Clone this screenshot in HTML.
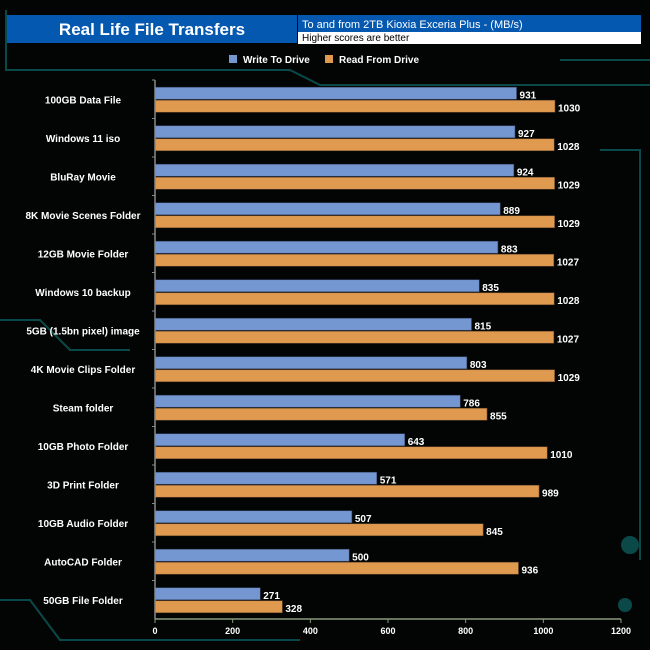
<!DOCTYPE html>
<html><head><meta charset="utf-8"><style>
body{margin:0;background:#000;}
#c{position:relative;width:650px;height:650px;overflow:hidden;background:#030505;font-family:"Liberation Sans",Arial,sans-serif;}
</style></head><body>
<div id="c">
<svg width="650" height="650" id="s" style="position:absolute;left:0;top:0">
<g stroke="#0d5a5a" stroke-width="2" fill="none" opacity="0.8">
<path d="M0 320 L40 320 L70 350 L130 350"/><path d="M600 150 L640 150 L640 560"/><path d="M0 600 L30 600 L60 640 L300 640"/>
<path d="M560 60 L650 60"/><path d="M6 10 L6 70 L290 70 L320 85 L650 85"/>
<circle cx="630" cy="545" r="8" fill="#0d5a5a"/><circle cx="625" cy="605" r="6" fill="#0d5a5a"/>
</g>
<rect x="7" y="15" width="290" height="28" fill="#0558b0"/>
<text x="152" y="35" text-anchor="middle" fill="#fff" font-size="17" font-weight="bold">Real Life File Transfers</text>
<rect x="298" y="15" width="343" height="17" fill="#0558b0"/>
<rect x="298" y="32" width="343" height="12" fill="#fff"/>
<text x="302" y="28" fill="#fff" font-size="11">To and from 2TB Kioxia Exceria Plus - (MB/s)</text>
<text x="302" y="41" fill="#000" font-size="10">Higher scores are better</text>
<rect x="229" y="55" width="8" height="8" fill="#7597d1"/>
<text x="243" y="63" fill="#fff" font-size="10" font-weight="bold">Write To  Drive</text>
<rect x="325" y="55" width="8" height="8" fill="#e09a50"/>
<text x="339" y="63" fill="#fff" font-size="10" font-weight="bold">Read From  Drive</text>
<g id="plot"></g>
</svg>
</div>
<script>
const categories=["100GB Data File","Windows 11 iso","BluRay Movie","8K Movie Scenes Folder","12GB Movie Folder","Windows 10 backup","5GB (1.5bn pixel) image","4K Movie Clips Folder","Steam folder","10GB Photo Folder","3D Print Folder","10GB Audio Folder","AutoCAD Folder","50GB File Folder"];
const writeVals=[931,927,924,889,883,835,815,803,786,643,571,507,500,271];
const readVals=[1030,1028,1029,1029,1027,1028,1027,1029,855,1010,989,845,936,328];
const ticks=[0,200,400,600,800,1000,1200];
const NS="http://www.w3.org/2000/svg";
const g=document.getElementById('plot');
const X0=155,X1=621,Y0=80,Y1=619,MAX=1200;
const x=v=>X0+v/MAX*(X1-X0);
const band=(Y1-Y0)/categories.length;
function el(t,a,txt){const e=document.createElementNS(NS,t);for(const k in a)e.setAttribute(k,a[k]);if(txt!=null)e.textContent=txt;g.appendChild(e);return e;}
categories.forEach((c,i)=>{
 const cy=Y0+band*i+band/2;
 let t=el('text',{x:83,y:cy+4,'text-anchor':'middle',fill:'#fff','font-size':'10','font-weight':'bold'},c);
 
 
 let b=el('rect',{x:X0,y:cy-12,width:x(writeVals[i])-X0,height:12,fill:'#7597d1',stroke:'#3a4a6a','stroke-width':'0.6'});
 
 
 let r=el('rect',{x:X0,y:cy+1,width:x(readVals[i])-X0,height:12,fill:'#e09a50',stroke:'#6a4a2a','stroke-width':'0.6'});
 
 
 let l1=el('text',{x:x(writeVals[i])+3,y:cy-1,fill:'#fff','font-size':'10','font-weight':'bold'},writeVals[i]);
 
 
 let l2=el('text',{x:x(readVals[i])+3,y:cy+12,fill:'#fff','font-size':'10','font-weight':'bold'},readVals[i]);
 
 
 let tk=el('line',{x1:X0-3,x2:X0,y1:Y0+band*i,y2:Y0+band*i,stroke:'#888'});
 
 
});
let ya=el('line',{x1:X0,x2:X0,y1:Y0,y2:Y1,stroke:'#888','stroke-width':'1.5'});


let xa=el('line',{x1:X0,x2:X1,y1:Y1,y2:Y1,stroke:'#8a9a7a','stroke-width':'1.5'});


ticks.forEach(v=>{
 let l=el('line',{x1:x(v),x2:x(v),y1:Y1,y2:Y1+4,stroke:'#8a9a7a'});
 
 
 let t=el('text',{x:x(v),y:Y1+15,'text-anchor':'middle',fill:'#fff','font-size':'9','font-weight':'bold'},v);
 
 
});
</script>
</body></html>
